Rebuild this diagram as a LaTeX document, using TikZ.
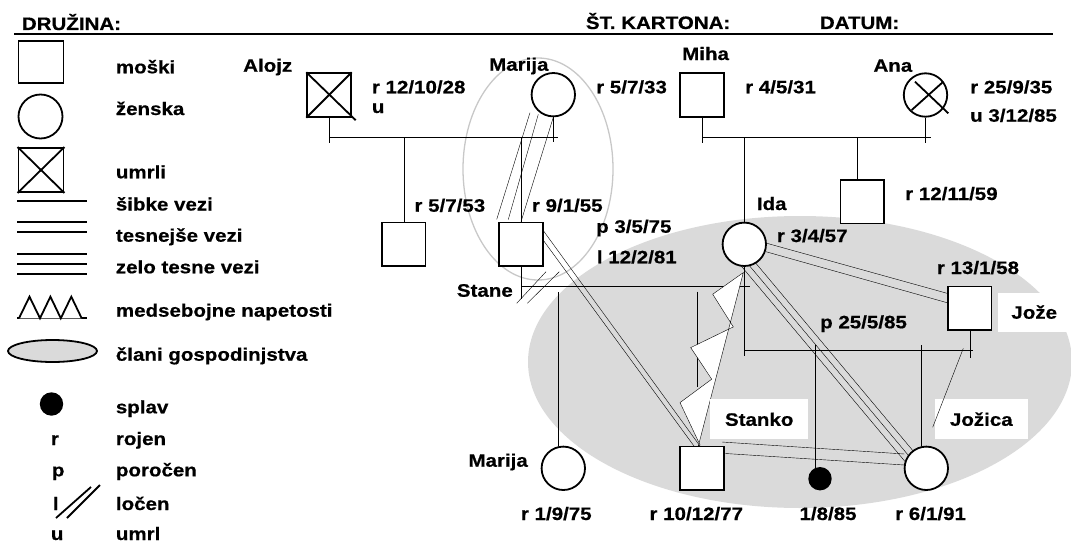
\documentclass[tikz,border=0pt]{standalone}
\usepackage{fontspec}
\setmainfont{Liberation Sans}
\newfontfamily\lblfam{Liberation Sans Bold}[FakeStretch=1.14, FakeBold=0.6]
\usetikzlibrary{calc}
\pgfdeclarelayer{bg}
\pgfsetlayers{bg,main}
\definecolor{blobgray}{RGB}{218,218,218}
\definecolor{ringgray}{RGB}{200,200,200}
\newcommand{\lblf}{\lblfam\fontsize{18}{20}\selectfont}
\tikzset{
  lbl/.style={anchor=base west, inner sep=0pt, font=\lblf},
  male/.style={draw, fill=white, rectangle, minimum width=43.5pt, minimum height=43.5pt, inner sep=0pt},
  female/.style={draw, fill=white, circle, minimum size=43.4pt, inner sep=0pt},
  splavn/.style={circle, fill=black, minimum size=23.4pt, inner sep=0pt},
  tagbox/.style={fill=white, inner sep=0pt, text height=13pt, text depth=0pt, font=\lblf},
}
\begin{document}
\begin{tikzpicture}[x=1pt,y=-1pt,line width=1.8pt]
\useasboundingbox (0,0) rectangle (1071,543);

% ---------- header ----------
\node[lbl] (hdr1) at (21,30) {DRUŽINA:};
\node[lbl] (hdr2) at (585,29) {ŠT. KARTONA:};
\node[lbl] (hdr3) at (819,29) {DATUM:};
\draw[line width=2.3pt] (14,34.3) -- (1053,34.3);

% ---------- legend ----------
\node[male, minimum width=45pt, minimum height=42.6pt] (lm) at (41,62) {};
\node[female, minimum size=44pt] (lf) at (40.5,116.5) {};
\node[male, minimum width=45pt, minimum height=44pt] (ld) at (41,170) {};
\draw (ld.north west) -- (ld.south east);
\draw (ld.north east) -- (ld.south west);
\draw (17,200.7) -- (87,200.7);
\draw (17,221.7) -- (87,221.7);
\draw (17,231.7) -- (87,231.7);
\draw (17,254) -- (87,254);
\draw (17,264) -- (87,264);
\draw (17,274) -- (87,274);
\draw (17,318.3) -- (87,318.3);
\filldraw[fill=white] (19,318.3) -- (29.5,296.7) -- (40,318.3) -- (50.4,296.7) -- (60.8,318.3) -- (71.3,296.7) -- (81.7,318.3);
\filldraw[fill=blobgray] (52.5,351) ellipse [x radius=44.5pt, y radius=11pt];
\node[splavn] (ls) at (51.5,404) {};
\draw (56,518) -- (91,487);
\draw (67,518) -- (100,485);

\node[lbl] (lt1) at (115,73.3) {moški};
\node[lbl] (lt2) at (115,115) {ženska};
\node[lbl] (lt3) at (115,178.3) {umrli};
\node[lbl] (lt4) at (115,210.5) {šibke vezi};
\node[lbl] (lt5) at (115,241.7) {tesnejše vezi};
\node[lbl] (lt6) at (115,273.3) {zelo tesne vezi};
\node[lbl] (lt7) at (115,316.7) {medsebojne napetosti};
\node[lbl] (lt8) at (115,360.7) {člani gospodinjstva};
\node[lbl] (lt9) at (115,413.3) {splav};
\node[lbl] (lt10) at (115,445) {rojen};
\node[lbl] (lt11) at (115,476.3) {poročen};
\node[lbl] (lt12) at (115,510) {ločen};
\node[lbl] (lt13) at (115,540) {umrl};
\node[lbl] (lk1) at (50,445) {r};
\node[lbl] (lk2) at (51,476.3) {p};
\node[lbl] (lk3) at (52,510) {l};
\node[lbl] (lk4) at (50,540) {u};

% ---------- persons ----------
\node[male] (alojz) at (329,95) {};
\node[female] (marija1) at (553.3,94.7) {};
\node[male] (miha) at (702,95) {};
\node[female] (ana) at (925.5,95) {};
\node[male] (sin) at (403.7,244.3) {};
\node[male] (stane) at (521,244.3) {};
\node[female] (ida) at (744.3,244.3) {};
\node[male] (brat) at (862.3,201.7) {};
\node[male] (joze) at (969.7,308.3) {};
\node[female] (marija2) at (563.3,468.3) {};
\node[male] (stanko) at (702,468.3) {};
\node[splavn] (splav) at (820,478.7) {};
\node[female] (jozica) at (926.3,468.3) {};

\draw (alojz.north west) -- ($(alojz.south east)+(4,2.5)$);
\draw (alojz.north east) -- (alojz.south west);
\draw ($(ana.center)+(-10.5,-13.3)$) -- ($(ana.center)+(22.8,18.3)$);
\draw ($(ana.center)+(17.8,-13.3)$) -- ($(ana.center)+(-13.8,15)$);

\coordinate (y1) at (0,136.7);
\coordinate (y2) at (0,286);
\coordinate (y3) at (0,350);

\begin{pgfonlayer}{bg}
\draw[ringgray, line width=1.3pt] (538,169) ellipse [x radius=75pt, y radius=111pt];
\fill[blobgray] (800,362) ellipse [x radius=272pt, y radius=146pt];

% Alojz - Marija
\draw (alojz.south) -- ++(0,25);
\draw (marija1.south) -- ++(0,25);
\draw (alojz.south |- y1) -- ($(marija1.south |- y1)+(5,0)$);
\draw (sin.north) -- (sin.north |- y1);
\draw (stane.north) -- (stane.north |- y1);
\draw (marija1.south) -- (stane.north);
\draw ($(marija1.south)+(-15,-3)$) -- ($(stane.north)+(-12.7,-2.2)$);
\draw ($(marija1.south)+(-23.3,-4.7)$) -- ($(stane.north)+(-24.3,-2.2)$);

% Miha - Ana
\draw (miha.south) -- ++(0,25);
\draw (ana.south) -- ++(0,25);
\draw (miha.south |- y1) -- ($(ana.south |- y1)+(5,0)$);
\draw (ida.north) -- (ida.north |- y1);
\draw ($(brat.north)+(-5.6,0)$) -- ($(brat.north |- y1)+(-5.6,0)$);

% Stane - Ida
\draw (stane.south) -- ++(0,32);
\draw (ida.south) -- ++(0,89);
\draw (stane.south |- y2) -- ($(ida.south |- y2)+(6,0)$);
\draw ($(stane.south |- y2)+(-4.3,17.3)$) -- ($(stane.south |- y2)+(25,-14.3)$);
\draw ($(stane.south |- y2)+(6.3,17.3)$) -- ($(stane.south |- y2)+(38.3,-14.3)$);
\draw ($(marija2.north)+(-5,0)$) -- ($(marija2.north |- y2)+(-5,5.7)$);
\draw ($(stanko.north |- y2)+(-5.3,5.7)$) -- ++(0,95);

% Ida - Joze
\draw (joze.south) -- ++(0,26.7);
\draw (ida.south |- y3) -- ($(joze.south |- y3)+(3.6,0)$);
\draw ($(splav.north)+(-5,3)$) -- ($(splav.north |- y3)+(-5,-5)$);
\draw ($(jozica.north)+(-5.3,0)$) -- ($(jozica.north |- y3)+(-5.3,-5)$);
\draw ($(ida.east)+(0,-1)$) -- ($(joze.west)+(0,-15)$);
\draw ($(ida.east)+(-1,7.4)$) -- ($(joze.west)+(0,-5.6)$);

% Ida - Jozica (very close)
\coordinate (ij1) at ($(ida.center)+(1.1,16.6)$);
\coordinate (ij2) at ($(jozica.center)+(-14.4,-8.7)$);
\draw (ij1) -- (ij2);
\draw ($(ij1)!6.5pt!90:(ij2)$) -- ($(ij2)!6.5pt!-90:(ij1)$);
\draw ($(ij1)!6.5pt!-90:(ij2)$) -- ($(ij2)!6.5pt!90:(ij1)$);

% Stane - Stanko (closer)
\draw ($(stane.east)+(-0.8,-14.3)$) -- ($(stanko.north)+(-2,0.4)$);
\draw ($(stane.east)+(-1.8,-6)$) -- ($(stanko.north)+(-8,0.4)$);

% Stanko - Jozica (closer)
\draw ($(stanko.north east)+(-2.3,-3.6)$) -- ($(jozica.west)+(0.7,-14.3)$);
\draw ($(stanko.east)+(-2.3,-15)$) -- ($(jozica.west)+(0.7,-3.3)$);

% Ida - Stanko tension
\coordinate (tA) at ($(ida.south)+(-1,5.7)$);
\coordinate (tB) at ($(stanko.north)+(-3.7,0.4)$);
\filldraw[fill=white] (tA) -- ++(-30.6,21.6) -- ++(20.6,32.7) -- ++(-42.6,20.7) -- ++(21,31.6) -- ++(-31.7,23.4) -- ++(20,42.3) -- (tB) -- cycle;
\end{pgfonlayer}

% ---------- boxed names ----------
\node[tagbox, minimum width=98.3pt, minimum height=40pt] (tstanko) at (759.2,419.3) {Stanko};
\node[tagbox, minimum width=92.7pt, minimum height=40pt] (tjozica) at (981.3,419.3) {Jožica};
\node[tagbox, minimum width=71.7pt, minimum height=39pt] (tjoze) at (1034.2,312.2) {Jože};
\draw ($(joze.south |- y3)+(-6.4,-1.7)$) -- ($(jozica.north)+(6.4,-18.4)$);

% ---------- labels ----------
\node[lbl] (n1) at (243,71.7) {Alojz};
\node[lbl] (n2) at (371.7,93.3) {r 12/10/28};
\node[lbl] (n3) at (371.7,113) {u};
\node[lbl] (n4) at (489,70.7) {Marija};
\node[lbl] (n5) at (596,93.3) {r 5/7/33};
\node[lbl] (n6) at (682,60) {Miha};
\node[lbl] (n7) at (745,93.3) {r 4/5/31};
\node[lbl] (n8) at (873.3,71.7) {Ana};
\node[lbl] (n9) at (970,93.3) {r 25/9/35};
\node[lbl] (n10) at (970,121.7) {u 3/12/85};
\node[lbl] (n11) at (414.3,211.7) {r 5/7/53};
\node[lbl] (n12) at (531.7,211.7) {r 9/1/55};
\node[lbl] (n13) at (596,232.7) {p 3/5/75};
\node[lbl] (n14) at (596.7,263.3) {l 12/2/81};
\node[lbl] (n15) at (756.7,210) {Ida};
\node[lbl] (n16) at (776.7,242) {r 3/4/57};
\node[lbl] (n17) at (905,200) {r 12/11/59};
\node[lbl] (n18) at (936.7,274) {r 13/1/58};
\node[lbl] (n19) at (456.7,296.7) {Stane};
\node[lbl] (n20) at (820,328.3) {p 25/5/85};
\node[lbl] (n21) at (468.3,466.7) {Marija};
\node[lbl] (n22) at (520.7,520) {r 1/9/75};
\node[lbl] (n23) at (649.3,520) {r 10/12/77};
\node[lbl] (n24) at (799.3,520) {1/8/85};
\node[lbl] (n25) at (895,520) {r 6/1/91};
\end{tikzpicture}
\end{document}
